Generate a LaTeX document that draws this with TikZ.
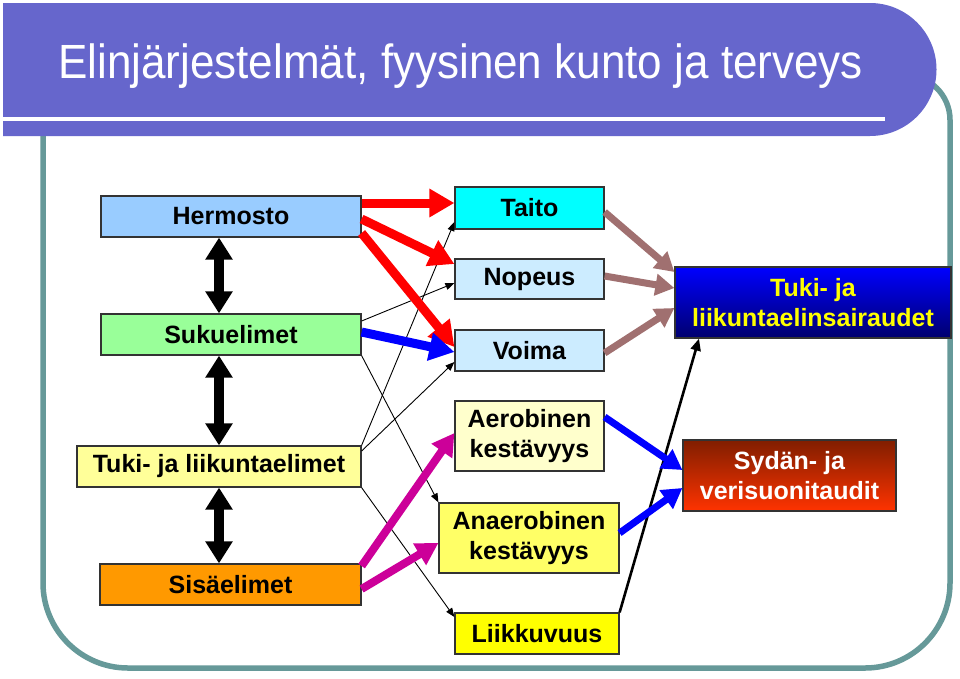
\documentclass[tikz,border=0pt]{standalone}
\usepackage{fontspec}
\setmainfont{Liberation Sans}
\usetikzlibrary{arrows.meta,calc}
\definecolor{band}{RGB}{102,102,204}
\definecolor{frameteal}{RGB}{102,153,153}
\definecolor{cHerm}{RGB}{153,204,255}
\definecolor{cSuku}{RGB}{153,255,153}
\definecolor{cTuki}{RGB}{255,255,153}
\definecolor{cSisa}{RGB}{255,153,0}
\definecolor{cTaito}{RGB}{0,255,255}
\definecolor{cPale}{RGB}{204,236,255}
\definecolor{cAero}{RGB}{255,255,204}
\definecolor{cAnae}{RGB}{255,255,102}
\definecolor{cLiik}{RGB}{255,255,0}
\definecolor{cBrown}{RGB}{160,112,112}
\definecolor{cMag}{RGB}{204,0,153}
\definecolor{cBorder}{RGB}{51,51,51}
\tikzset{
  box/.style={draw=cBorder, line width=1.2pt, inner sep=0pt, align=center,
    font=\bfseries\fontsize{25}{30}\selectfont},
  thinarr/.style={line width=0.9pt, -{Triangle[length=9pt,width=7pt]}},
  medarr/.style={line width=2.6pt, -{Triangle[length=12pt,width=10pt]}},
  redarr/.style={red, line width=9pt, -{Triangle[length=25pt,width=27pt]}},
  bluearr/.style={blue, line width=9pt, -{Triangle[length=25pt,width=27pt]}},
  bluesm/.style={blue, line width=7pt, -{Triangle[length=20pt,width=22pt]}},
  brownarr/.style={cBrown, line width=7pt, -{Triangle[length=19pt,width=21pt]}},
  magarr/.style={cMag, line width=8pt, -{Triangle[length=22pt,width=24pt]}},
  dblarr/.style={black, line width=10pt,
    {Triangle[length=22pt,width=26pt]}-{Triangle[length=22pt,width=26pt]}}
}
\begin{document}
\begin{tikzpicture}[x=1pt,y=-1pt]
\useasboundingbox (0,0) rectangle (960,678);
\fill[white] (0,0) rectangle (960,678);
% teal frame
\draw[frameteal, line width=5.5pt]
  (43,100) -- (43,583) arc[start angle=180, end angle=90, radius=85]
  -- (865,668) arc[start angle=90, end angle=0, radius=85]
  -- (950,120) arc[start angle=0, end angle=-90, radius=45] -- (600,75);
% title band
\fill[band] (3,3) -- (870,3) arc[start angle=-90, end angle=90, radius=66.5] -- (3,136) -- cycle;
\fill[white] (3,117) rectangle (885,121);
\node[anchor=base west, inner sep=0pt, text=white, font=\fontsize{48}{52}\selectfont] (title) at (58,78)
  {\scalebox{0.917}[1]{Elinjärjestelmät, fyysinen kunto ja terveys}};
% left column
\node[box, fill=cHerm, minimum width=260pt, minimum height=41pt] (herm) at (231,216.5) {Hermosto};
\node[box, fill=cSuku, minimum width=260pt, minimum height=41pt] (suku) at (231,334.5) {Sukuelimet};
\node[box, fill=cTuki, minimum width=284pt, minimum height=41pt] (tuki) at (219,466.5) {Tuki- ja liikuntaelimet};
\node[box, fill=cSisa, minimum width=261pt, minimum height=41pt] (sisa) at (230.5,584.5) {Sisäelimet};
% middle column
\node[box, fill=cTaito, minimum width=149pt, minimum height=42pt] (taito) at (529.5,208) {Taito};
\node[box, fill=cPale, minimum width=149pt, minimum height=40pt] (nopeus) at (529.5,279) {Nopeus};
\node[box, fill=cPale, minimum width=149pt, minimum height=41pt] (voima) at (529.5,350.5) {Voima};
\node[box, fill=cAero, minimum width=149pt, minimum height=70pt] (aero) at (529.5,436) {Aerobinen\\kestävyys};
\node[box, fill=cAnae, minimum width=180pt, minimum height=70pt] (anae) at (529,538) {Anaerobinen\\kestävyys};
\node[box, fill=cLiik, minimum width=164pt, minimum height=41pt] (liik) at (537,633.5) {Liikkuvuus};
% right column
\node[box, top color=blue, bottom color={rgb,255:red,0;green,0;blue,110}, text={rgb,255:red,255;green,255;blue,0},
  minimum width=276pt, minimum height=71pt] (tsair) at (813,302.5) {Tuki- ja\\liikuntaelinsairaudet};
\node[box, top color={rgb,255:red,128;green,30;blue,0}, bottom color={rgb,255:red,255;green,51;blue,0}, text=white,
  minimum width=213pt, minimum height=71pt] (sydan) at (789.5,475.5) {Sydän- ja\\verisuonitaudit};
% double arrows
\draw[dblarr] (herm.south -| 219,0) -- (suku.north -| 219,0);
\draw[dblarr] (suku.south -| 219,0) -- (tuki.north -| 219,0);
\draw[dblarr] (tuki.south -| 219,0) -- (sisa.north -| 219,0);
% thin arrows
\draw[thinarr] (suku.east |- 0,321) -- (nopeus.west |- 0,283);
\draw[thinarr] (tuki.north east) -- (taito.west |- 0,222);
\draw[thinarr] (tuki.east |- 0,451) -- (voima.west |- 0,362);
\draw[thinarr] (suku.south east) -- (anae.north west);
\draw[thinarr] (tuki.south east) -- (liik.west |- 0,617);
\draw[medarr] (liik.north east) -- (tsair.south -| 699,0);
% red arrows
\draw[redarr] (herm.east |- 0,203) -- (taito.west |- 0,203);
\draw[redarr] (herm.east |- 0,219) -- (nopeus.west |- 0,264);
\draw[redarr] (herm.east |- 0,233) -- (voima.west |- 0,347);
% blue arrow
\draw[bluearr] (suku.east |- 0,332) -- (voima.west |- 0,352);
% brown arrows
\draw[brownarr] (taito.east |- 0,212) -- (tsair.west |- 0,272);
\draw[brownarr] (nopeus.east |- 0,276) -- (tsair.west |- 0,288);
\draw[brownarr] (voima.east |- 0,353) -- (tsair.west |- 0,308);
% blue right arrows
\draw[bluesm] (aero.east |- 0,417) -- (sydan.west |- 0,470);
\draw[bluesm] (anae.east |- 0,533) -- (sydan.west |- 0,488);
% magenta arrows
\draw[magarr] (sisa.east |- 0,566) -- (aero.west |- 0,433);
\draw[magarr] (sisa.east |- 0,589) -- (anae.west |- 0,543);
\end{tikzpicture}
\end{document}
